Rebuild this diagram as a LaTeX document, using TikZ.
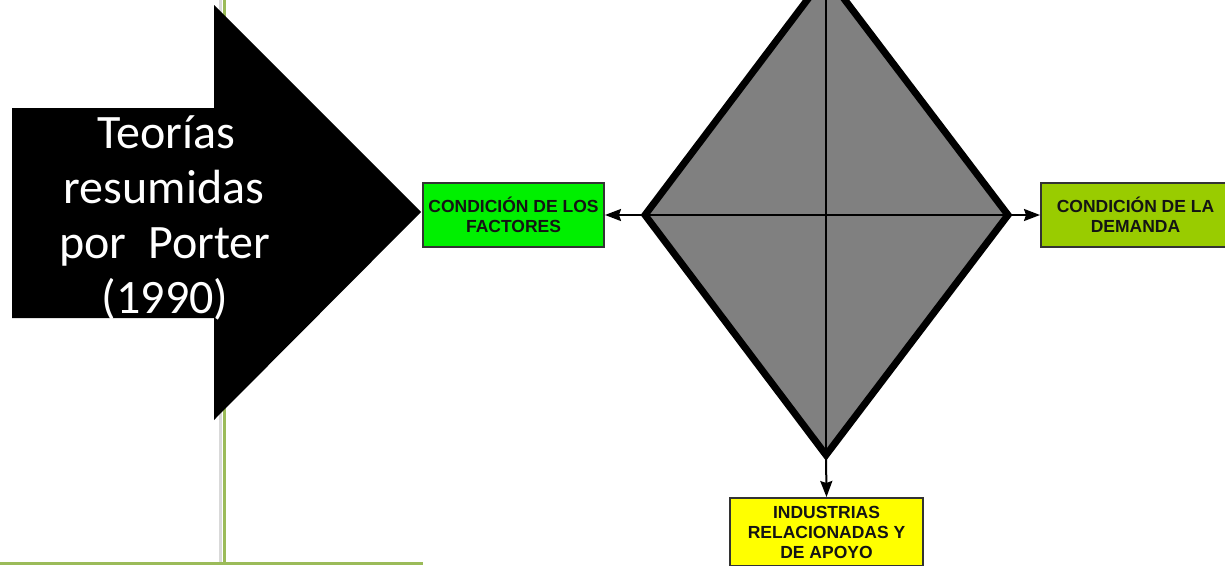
\documentclass[tikz,border=0pt]{standalone}
\usepackage{fontspec}
\setmainfont{Carlito}
\newfontfamily\boxfont{Liberation Sans}
\usetikzlibrary{arrows.meta}
\definecolor{frameline}{HTML}{9BBB59}
\definecolor{factorgreen}{HTML}{00F000}
\definecolor{demandgreen}{HTML}{99CC00}
\definecolor{supportyellow}{HTML}{FFFF00}
\definecolor{diamondgray}{HTML}{808080}
\definecolor{boxtext}{HTML}{141414}
\tikzset{
  framestroke/.style={frameline, line width=3pt},
  arrowtext/.style={white, inner sep=0pt, anchor=base, font=\fontsize{48}{55}\selectfont},
  factorbox/.style={draw=black!80, line width=2pt, inner sep=0pt, align=center,
    text=boxtext, font=\boxfont\bfseries\fontsize{17.5}{20}\selectfont},
  link/.style={black, line width=2pt, -{Stealth[length=16pt,width=12pt,inset=2pt]}},
}
\begin{document}
\begin{tikzpicture}[x=1pt,y=-1pt]
\useasboundingbox (0,0) rectangle (1225,565);
\fill[white] (0,0) rectangle (1225,565);

% slide frame lines with a faint shadow
\draw[black!15, line width=2.5pt] (220.5,0) -- (220.5,565);
\draw[framestroke] (224,0) -- (224,565);
\draw[framestroke] (0,563.5) -- (423,563.5);

% black block arrow
\fill[black] (12,108) -- (214,108) -- (214,5) -- (421,212) -- (214,420)
  -- (214,318) -- (12,318) -- cycle;
\node[arrowtext] (t1) at (166,148) {Teorías};
\node[arrowtext] (t2) at (164,203) {resumidas};
\node[arrowtext] (t3) at (165,258) {por\ \ Porter};
\node[arrowtext] (t4) at (165,313) {(1990)};

% the diamond
\coordinate (dtop) at (826,-25);
\coordinate (dleft) at (645,215);
\coordinate (dright) at (1008,215);
\coordinate (dbottom) at (826,455);
\filldraw[fill=diamondgray, draw=black, line width=7pt, line join=miter]
  (dtop) -- (dright) -- (dbottom) -- (dleft) -- cycle;
\draw[black, line width=1.5pt] (dtop) -- (dbottom);
\draw[black, line width=1.5pt] (dleft) -- (dright);

% the three condition boxes
\node[factorbox, fill=factorgreen, minimum width=181pt, minimum height=64pt]
  (factores) at (513.5,215) {CONDICIÓN DE LOS\\FACTORES};
\node[factorbox, fill=demandgreen, minimum width=189pt, minimum height=64pt]
  (demanda) at (1135.5,215) {CONDICIÓN DE LA\\DEMANDA};
\node[factorbox, fill=supportyellow, minimum width=193pt, minimum height=68pt]
  (apoyo) at (826.5,532) {INDUSTRIAS\\RELACIONADAS Y\\DE APOYO};

% connectors
\draw[link] (dleft) -- (factores.east);
\draw[link] (dright) -- (demanda.west);
\draw[link] (dbottom) -- (apoyo.north);
\end{tikzpicture}
\end{document}
